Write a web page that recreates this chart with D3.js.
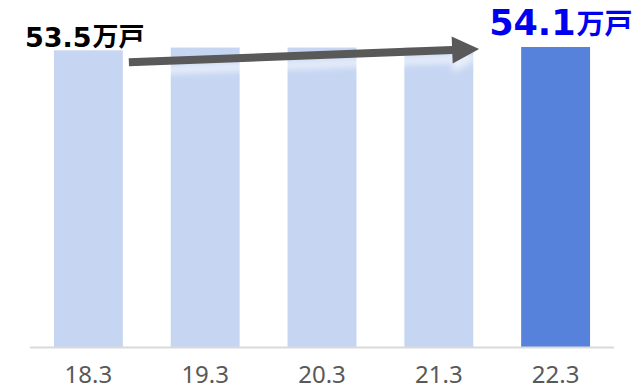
<!DOCTYPE html>
<html>
<head>
<meta charset="utf-8">
<script src="https://cdn.jsdelivr.net/npm/d3@7"></script>
<style>
  html, body { margin: 0; padding: 0; background: #fff; }
  svg { display: block; }
</style>
</head>
<body>
<div id="chart"></div>
<script>
// Households (万戸) at the end of March each year
const categories = ["18.3", "19.3", "20.3", "21.3", "22.3"];
const values = [53.5, 54.0, 54.0, 54.0, 54.1];
const highlightIndex = 4;
const unitLabel = "万戸";

const W = 643, H = 390;
const svg = d3.select("#chart").append("svg")
  .attr("width", W).attr("height", H);

const defs = svg.append("defs");
defs.append("filter").attr("id", "glow")
  .attr("x", "-10%").attr("y", "-100%").attr("width", "120%").attr("height", "300%")
  .append("feGaussianBlur").attr("stdDeviation", 3);

const x = d3.scaleBand()
  .domain(categories)
  .range([30, 614])
  .paddingInner(0.41)
  .paddingOuter(0.205);

const y = d3.scaleLinear()
  .domain([0, d3.max(values)])
  .range([347, 47]);

// Bars
svg.append("g").selectAll("rect")
  .data(values)
  .join("rect")
  .attr("x", (d, i) => x(categories[i]))
  .attr("y", d => y(d))
  .attr("width", x.bandwidth())
  .attr("height", d => y(0) - y(d))
  .attr("fill", (d, i) => i === highlightIndex ? "#5782DC" : "#C6D6F2");

// Baseline
svg.append("line")
  .attr("x1", 30).attr("x2", 614)
  .attr("y1", y(0) + 0.5).attr("y2", y(0) + 0.5)
  .attr("stroke", "#D9D9D9").attr("stroke-width", 2);

// Category labels
const axis = d3.axisBottom(x).tickSize(0).tickPadding(0);
const gAxis = svg.append("g")
  .attr("transform", `translate(0, ${y(0)})`)
  .call(axis);
gAxis.select(".domain").remove();
gAxis.selectAll("text")
  .attr("y", 36)
  .attr("dy", 0)
  .attr("fill", "#595959")
  .style("font-family", "'Noto Sans', sans-serif")
  .style("font-size", "24px");

// Trend arrow from the first bar to the last
const first = 0, last = values.length - 1;
const ax0 = x(categories[first]) + x.bandwidth() + 6;
const ay0 = y(values[first]) + 12;
const ax1 = x(categories[last]) - 42;
const ay1 = y(values[last]) + 2;
const ang = Math.atan2(ay1 - ay0, ax1 - ax0) * 180 / Math.PI;
const len = Math.hypot(ax1 - ax0, ay1 - ay0);
const headLen = 27, headHalf = 13.5, shaft = 4;
const arrowPath = `M0,${-shaft} L${len - headLen},${-shaft} L${len - headLen},${-headHalf}
  L${len},0 L${len - headLen},${headHalf} L${len - headLen},${shaft} L0,${shaft} Z`;

const gArrow = svg.append("g")
  .attr("transform", `translate(${ax0},${ay0}) rotate(${ang})`);
gArrow.append("path")
  .attr("d", arrowPath)
  .attr("transform", "translate(0,9)")
  .attr("fill", "#ffffff")
  .attr("opacity", 0.6)
  .attr("filter", "url(#glow)");
gArrow.append("path")
  .attr("d", arrowPath)
  .attr("fill", "#595959");

// Value labels
function valueLabel(xPos, yPos, value, numSize, unitSize, color) {
  const t = svg.append("text")
    .attr("x", xPos).attr("y", yPos)
    .attr("fill", color)
    .style("font-weight", "bold");
  t.append("tspan")
    .style("font-family", "'DejaVu Sans', sans-serif")
    .style("font-size", numSize + "px")
    .text(value.toFixed(1));
  t.append("tspan")
    .style("font-family", "'Noto Sans CJK JP', sans-serif")
    .style("font-size", unitSize + "px")
    .attr("dx", 1)
    .attr("dy", -1)
    .text(unitLabel);
}
valueLabel(x(categories[first]) - 29, y(values[first]) - 3, values[first], 27, 26, "#000000");
valueLabel(x(categories[last]) - 32, y(values[last]) - 12, values[last], 35, 28, "#0000F0");
</script>
</body>
</html>
